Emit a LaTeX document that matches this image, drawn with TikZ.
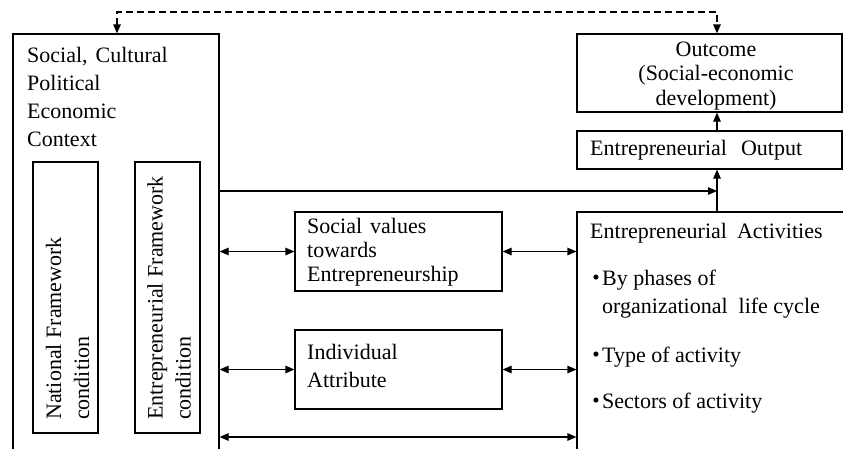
\documentclass[tikz,border=0pt]{standalone}
\usepackage{fontspec}
\setmainfont{Liberation Serif}
\usetikzlibrary{arrows.meta}
\newcommand\itembullet{\llap{\raisebox{0.5pt}{\fontsize{21}{21}\selectfont\textbullet}\hspace{2.5pt}}}
\begin{document}
\begin{tikzpicture}[x=1pt,y=-1pt,
  box/.style={draw,line width=1.2pt,inner sep=0pt,rectangle},
  lbl/.style={inner sep=0pt,align=left,font=\fontsize{22}{28}\selectfont},
  tip/.tip={Triangle[length=9pt,width=7.5pt]},
  arr/.style={line width=1.2pt,-tip},
  dbl/.style={line width=1.2pt,tip-tip},
  feedback/.style={dbl,dash pattern=on 7pt off 4pt}]
\clip (0,0) rectangle (843,448);

% frame boxes
\node[box,minimum width=206pt,minimum height=446pt] (ctx) at (116,257) {};
\node[box,minimum width=65pt,minimum height=271pt] (nat) at (65.5,297.5) {};
\node[box,minimum width=65pt,minimum height=271pt] (efw) at (167.5,297.5) {};
\node[box,minimum width=265pt,minimum height=78pt] (outc) at (709.5,73) {};
\node[box,minimum width=265pt,minimum height=38pt] (out) at (709.5,150) {};
\node[box,minimum width=293pt,minimum height=268pt] (act) at (723.5,346) {};
\node[box,minimum width=207pt,minimum height=79pt] (sv) at (398.5,251.5) {};
\node[box,minimum width=207pt,minimum height=79pt] (ind) at (398.5,369.5) {};

% labels
\node[lbl,anchor=west] (ctxlbl) at (27,97)
  {Social,\hspace{8pt}Cultural\\Political\\Economic\\Context};
\node[lbl,rotate=90,anchor=west] (natlbl) at (67.5,420)
  {National Framework\\condition};
\node[lbl,rotate=90,anchor=west] (efwlbl) at (169,420)
  {Entrepreneurial Framework\\condition};
\node[lbl,align=center,font=\fontsize{22}{24.5}\selectfont] (outclbl) at (716,76)
  {Outcome\\(Social-economic\\development)};
\node[lbl,anchor=west] (outlbl) at (590,150) {Entrepreneurial\hspace{14pt}Output};
\node[lbl,anchor=west,font=\fontsize{22}{24}\selectfont] (svlbl) at (307,252)
  {Social\hspace{8pt}values\\towards\\Entrepreneurship};
\node[lbl,anchor=west] (indlbl) at (307,366) {Individual\\Attribute};
\node[lbl,anchor=west] (actlbl) at (590,233) {Entrepreneurial\hspace{10pt}Activities};
\node[lbl,anchor=west] (b1) at (602,294)
  {\itembullet By phases of\\organizational\hspace{11pt}life cycle};
\node[lbl,anchor=west] (b2) at (602,357) {\itembullet Type of activity};
\node[lbl,anchor=west] (b3) at (602,403) {\itembullet Sectors of activity};

% connectors
\coordinate (fl) at (117,12);
\coordinate (fr) at (717,12);
\draw[feedback] (fl |- ctx.north) -- (fl) -- (fr) -- (fr |- outc.north);
\draw[arr] (fr |- out.north) -- (fr |- outc.south);
\draw[arr] (fr |- act.north) -- (fr |- out.south);
\coordinate (jn) at (717,191);
\draw[arr] (ctx.east |- jn) -- (jn);
\draw[dbl] (ctx.east |- sv.west) -- (sv.west);
\draw[dbl] (sv.east) -- (act.west |- sv.east);
\draw[dbl] (ctx.east |- ind.west) -- (ind.west);
\draw[dbl] (ind.east) -- (act.west |- ind.east);
\coordinate (bt) at (400,437);
\draw[dbl] (ctx.east |- bt) -- (act.west |- bt);
\end{tikzpicture}
\end{document}
